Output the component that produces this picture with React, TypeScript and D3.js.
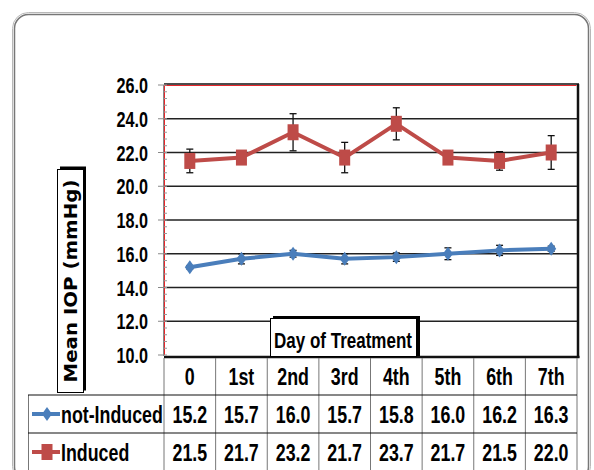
import * as d3 from "d3";

const days = ["0", "1st", "2nd", "3rd", "4th", "5th", "6th", "7th"];
const notInduced = [15.2, 15.7, 16.0, 15.7, 15.8, 16.0, 16.2, 16.3];
const induced = [21.5, 21.7, 23.2, 21.7, 23.7, 21.7, 21.5, 22.0];
const notInducedErr = [0.1, 0.3, 0.2, 0.3, 0.25, 0.35, 0.3, 0.15];
const inducedErr = [0.7, 0.2, 1.1, 0.9, 0.95, 0.2, 0.55, 1.0];
const yTicks = [10, 12, 14, 16, 18, 20, 22, 24, 26];

const W = 594;
const H = 470;
const blue = "#4a7ebb";
const red = "#be4b48";

// condensed bold text: Arial-metric font squeezed to narrow width
const NText = ({ x, y, size, anchor = "start", children }: any) => (
  <text
    transform={`translate(${x},${y}) scale(0.81,1.07)`}
    textAnchor={anchor}
    fontFamily="'Liberation Sans', Arial, sans-serif"
    fontWeight="bold"
    fontSize={size}
    fill="#000"
  >
    {children}
  </text>
);

const App = () => {
  const plot = { left: 164, right: 577, top: 85, bottom: 355 };

  const x = d3.scaleBand<string>().domain(days).range([plot.left, plot.right]);
  const y = d3.scaleLinear().domain([10, 26]).range([plot.bottom, plot.top]);
  const cx = (d: string) => (x(d) as number) + x.bandwidth() / 2;

  const line = d3
    .line<number>()
    .x((d, i) => cx(days[i]))
    .y((d) => y(d));

  const minorTicks = d3.range(10, 26.01, 0.4);
  const fmt = d3.format(".1f");

  const rowTop = 395;
  const rowMid = 433;
  const tableLeft = 28;

  const series = [
    { name: "not-Induced", values: notInduced, err: notInducedErr, color: blue, marker: "diamond", baseline: 423, mid: 414 },
    { name: "Induced", values: induced, err: inducedErr, color: red, marker: "square", baseline: 461, mid: 452 },
  ];

  const marker = (kind: string, mx: number, my: number, color: string, key: string) =>
    kind === "diamond" ? (
      <path
        key={key}
        d={`M${mx},${my - 7}L${mx + 5},${my}L${mx},${my + 7}L${mx - 5},${my}Z`}
        fill={color}
      />
    ) : (
      <rect key={key} x={mx - 5.5} y={my - 8} width={11} height={16} fill={color} />
    );

  return (
    <svg
      width={W}
      height={H}
      style={{ position: "absolute", left: 0, top: 0, background: "#fff" }}
    >
      {/* outer frame */}
      <rect x={12.5} y={12.5} width={578} height={470} rx={16} fill="none" stroke="#b8b8b8" strokeWidth={1} />
      <rect x={14.5} y={14.5} width={574} height={466} rx={14} fill="none" stroke="#777" strokeWidth={1.5} />

      {/* plot area shadow */}
      <line x1={plot.left} x2={plot.right + 2} y1={plot.top - 1} y2={plot.top - 1} stroke="#111" strokeWidth={1.5} />
      <line x1={plot.right + 1} x2={plot.right + 1} y1={plot.top - 1} y2={plot.bottom + 3} stroke="#111" strokeWidth={2.5} />
      <line x1={plot.left} x2={plot.right + 2.5} y1={plot.bottom + 2} y2={plot.bottom + 2} stroke="#111" strokeWidth={2.5} />

      {/* gridlines */}
      {yTicks.slice(1, -1).map((t) => (
        <line key={`g${t}`} x1={plot.left} x2={plot.right} y1={y(t)} y2={y(t)} stroke="#222" strokeWidth={1.3} />
      ))}
      {/* red border on top and left */}
      <path
        d={`M${plot.left + 0.5},${plot.bottom}V${plot.top + 0.5}H${plot.right - 0.5}`}
        fill="none"
        stroke="#e8262a"
        strokeWidth={1}
      />

      {/* y axis */}
      <line x1={plot.left - 0.5} x2={plot.left - 0.5} y1={plot.top} y2={plot.bottom + 1} stroke="#888" strokeWidth={1} />
      {minorTicks.map((t, i) => (
        <line key={`m${i}`} x1={plot.left} x2={plot.left + 3} y1={y(t)} y2={y(t)} stroke="#999" strokeWidth={1} />
      ))}
      {yTicks.map((t) => (
        <g key={`t${t}`}>
          <line x1={plot.left - 6} x2={plot.left} y1={y(t)} y2={y(t)} stroke="#888" strokeWidth={1} />
          <NText x={148} y={y(t) + 8} size={20} anchor="end">
            {fmt(t)}
          </NText>
        </g>
      ))}

      {/* error bars */}
      {series.map((s) =>
        s.values.map((v, i) => {
          const px = cx(days[i]);
          const y1 = y(v + s.err[i]);
          const y2 = y(v - s.err[i]);
          return (
            <g key={`e${s.name}${i}`} stroke="#111" strokeWidth={1.3}>
              <line x1={px} x2={px} y1={y1} y2={y2} />
              <line x1={px - 3.5} x2={px + 3.5} y1={y1} y2={y1} />
              <line x1={px - 3.5} x2={px + 3.5} y1={y2} y2={y2} />
            </g>
          );
        })
      )}

      {/* series lines and markers */}
      {series.map((s) => (
        <g key={`s${s.name}`}>
          <path d={line(s.values) as string} fill="none" stroke={s.color} strokeWidth={4} strokeLinejoin="round" />
          {s.values.map((v, i) => marker(s.marker, cx(days[i]), y(v), s.color, `${s.name}${i}`))}
        </g>
      ))}

      {/* y axis title box */}
      <rect x={60} y={166.5} width={26} height={224} fill="#000" />
      <rect x={57.5} y={169.5} width={26} height={223} fill="#fff" stroke="#000" strokeWidth={1} />
      <text
        transform="translate(77,281) rotate(-90)"
        textAnchor="middle"
        fontFamily="'DejaVu Sans', Verdana, sans-serif"
        fontWeight="bold"
        fontSize={17}
        textLength={203}
        lengthAdjust="spacingAndGlyphs"
        fill="#000"
      >
        Mean IOP (mmHg)
      </text>

      {/* x axis title box */}
      <rect x={273} y={316} width={147} height={40} fill="#000" />
      <rect x={270.5} y={318.5} width={146} height={38} fill="#fff" stroke="#000" strokeWidth={1} />
      <NText x={343} y={348} size={21} anchor="middle">
        Day of Treatment
      </NText>

      {/* data table */}
      <g stroke="#777" strokeWidth={1}>
        {d3.range(days.length + 1).map((i) => {
          const lx = plot.left + i * x.step();
          return <line key={`v${i}`} x1={lx} x2={lx} y1={plot.bottom + 3} y2={H} />;
        })}
        <line x1={tableLeft + 0.5} x2={tableLeft + 0.5} y1={rowTop} y2={H} />
      </g>
      <g stroke="#111" strokeWidth={1.2}>
        <line x1={tableLeft} x2={plot.right} y1={rowTop} y2={rowTop} />
        <line x1={tableLeft} x2={plot.right} y1={rowMid} y2={rowMid} />
      </g>
      {days.map((d) => (
        <NText key={`h${d}`} x={cx(d)} y={385} size={22} anchor="middle">
          {d}
        </NText>
      ))}
      {series.map((s) => (
        <g key={`r${s.name}`}>
          <line x1={32} x2={60} y1={s.mid} y2={s.mid} stroke={s.color} strokeWidth={4} />
          {marker(s.marker, 47, s.mid, s.color, `leg${s.name}`)}
          <NText x={61} y={s.baseline} size={22}>
            {s.name}
          </NText>
          {s.values.map((v, i) => (
            <NText key={`c${s.name}${i}`} x={cx(days[i])} y={s.baseline} size={22} anchor="middle">
              {fmt(v)}
            </NText>
          ))}
        </g>
      ))}
    </svg>
  );
};

export default App;
